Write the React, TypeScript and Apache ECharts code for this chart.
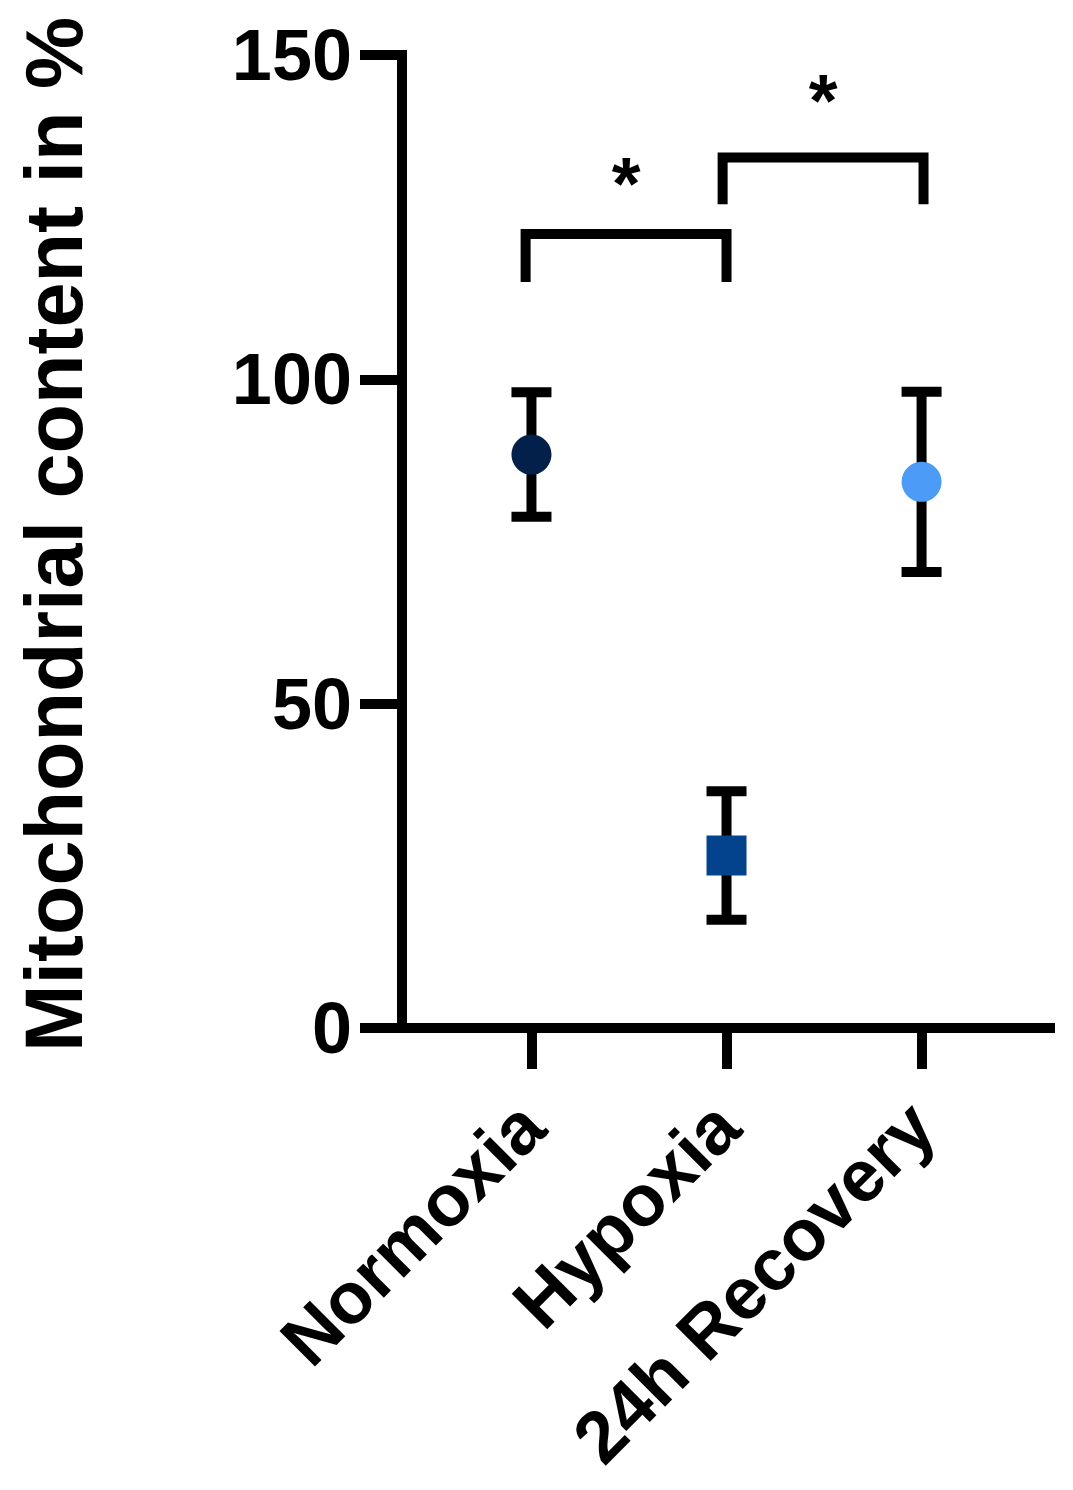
import React, { useEffect, useRef } from "react";
import * as echarts from "echarts";

// ---- data ----
const categories = ["Normoxia", "Hypoxia", "24h Recovery"];
const means = [88.4, 26.6, 84.2];
const sds = [9.6, 9.9, 13.9];
const markerShapes = ["circle", "rect", "circle"];
const markerColors = ["#03204a", "#03428c", "#4c9cf7"];

// significance brackets (x in category units, 1-based; y in %)
const bracketFrom = [0.97, 1.98];
const bracketTo = [2.0, 3.01];
const bracketTop = [122.4, 134.2];
const bracketLeg = [115.0, 127.0];
const starY = [132.1, 144.9];
const bracketLabels = ["*", "*"];

const yTicks = { min: 0, max: 150, interval: 50 };

const FONT = '"Liberation Sans", Arial, Helvetica, sans-serif';

export default function App() {
  const ref = useRef<HTMLDivElement>(null);

  useEffect(() => {
    if (!ref.current) return;
    const chart = echarts.init(ref.current, undefined, { renderer: "svg" });

    const catPos = categories.map((_, i) => i + 1);

    const errData = means.map((m, i) => [catPos[i], m, sds[i]]);
    const scatterData = means.map((m, i) => ({
      value: [catPos[i], m],
      symbol: markerShapes[i],
      itemStyle: { color: markerColors[i], opacity: 1 },
    }));
    const bracketData = bracketFrom.map((f, i) => [
      f,
      bracketTo[i],
      bracketTop[i],
      bracketLeg[i],
      starY[i],
      i,
    ]);

    const option: any = {
      animation: false,
      backgroundColor: "#ffffff",
      grid: { left: 360, right: 18, top: 55, bottom: 462, containLabel: false },
      xAxis: {
        type: "value",
        min: 0.121,
        max: 3.684,
        splitLine: { show: false },
        axisLine: {
          show: true,
          onZero: false,
          lineStyle: { color: "#000", width: 10, cap: "butt" },
        },
        axisTick: {
          show: true,
          customValues: catPos,
          length: 41,
          lineStyle: { color: "#000", width: 10 },
        },
        axisLabel: {
          show: true,
          customValues: catPos,
          formatter: (v: number) => categories[Math.round(v) - 1] ?? "",
          rotate: 45,
          margin: 86,
          color: "#000",
          fontFamily: FONT,
          fontWeight: "bold",
          fontSize: 73,
        },
      },
      yAxis: {
        type: "value",
        min: yTicks.min,
        max: yTicks.max,
        interval: yTicks.interval,
        offset: -42,
        splitLine: { show: false },
        axisLine: {
          show: true,
          lineStyle: { color: "#000", width: 10, cap: "square" },
        },
        axisTick: {
          show: true,
          length: 42,
          lineStyle: { color: "#000", width: 10 },
        },
        axisLabel: {
          margin: 50,
          color: "#000",
          fontFamily: FONT,
          fontWeight: "bold",
          fontSize: 72,
        },
        name: "Mitochondrial content in %",
        nameLocation: "middle",
        nameRotate: 90,
        nameGap: 308,
        nameTextStyle: {
          color: "#000",
          fontFamily: FONT,
          fontWeight: "bold",
          fontSize: 81,
          padding: [0, 0, 0, 14],
        },
      },
      series: [
        {
          type: "custom",
          name: "errors",
          z: 2,
          silent: true,
          data: errData,
          encode: { x: 0, y: 1 },
          renderItem: (params: any, api: any) => {
            const x = api.value(0);
            const m = api.value(1);
            const s = api.value(2);
            const top = api.coord([x, m + s]);
            const bot = api.coord([x, m - s]);
            const hw = 20;
            const st = { stroke: "#000", lineWidth: 10, lineCap: "butt" };
            return {
              type: "group",
              children: [
                { type: "line", shape: { x1: top[0], y1: top[1], x2: bot[0], y2: bot[1] }, style: st },
                { type: "line", shape: { x1: top[0] - hw, y1: top[1], x2: top[0] + hw, y2: top[1] }, style: st },
                { type: "line", shape: { x1: bot[0] - hw, y1: bot[1], x2: bot[0] + hw, y2: bot[1] }, style: st },
              ],
            };
          },
        },
        {
          type: "scatter",
          name: "means",
          z: 3,
          symbolSize: 40,
          itemStyle: { opacity: 1 },
          data: scatterData,
        },
        {
          type: "custom",
          name: "brackets",
          z: 4,
          silent: true,
          data: bracketData,
          encode: { x: [0, 1], y: [2, 3, 4] },
          renderItem: (params: any, api: any) => {
            const f = api.value(0);
            const t = api.value(1);
            const top = api.value(2);
            const leg = api.value(3);
            const sy = api.value(4);
            const idx = api.value(5);
            const p1 = api.coord([f, leg]);
            const p2 = api.coord([f, top]);
            const p3 = api.coord([t, top]);
            const p4 = api.coord([t, leg]);
            const sp = api.coord([(f + t) / 2, sy]);
            return {
              type: "group",
              children: [
                {
                  type: "polyline",
                  shape: { points: [p1, p2, p3, p4] },
                  style: { stroke: "#000", lineWidth: 10, fill: null, lineJoin: "miter", lineCap: "butt" },
                },
                {
                  type: "text",
                  style: {
                    text: bracketLabels[idx],
                    x: sp[0],
                    y: sp[1] + 12,
                    fill: "#000",
                    font: `bold 74px ${FONT}`,
                    textAlign: "center",
                    textVerticalAlign: "middle",
                    align: "center",
                    verticalAlign: "middle",
                  },
                },
              ],
            };
          },
        },
      ],
    };

    chart.setOption(option);
    return () => chart.dispose();
  }, []);

  return (
    <div
      ref={ref}
      style={{ position: "absolute", left: 0, top: 0, width: 1073, height: 1490, background: "#fff" }}
    />
  );
}
